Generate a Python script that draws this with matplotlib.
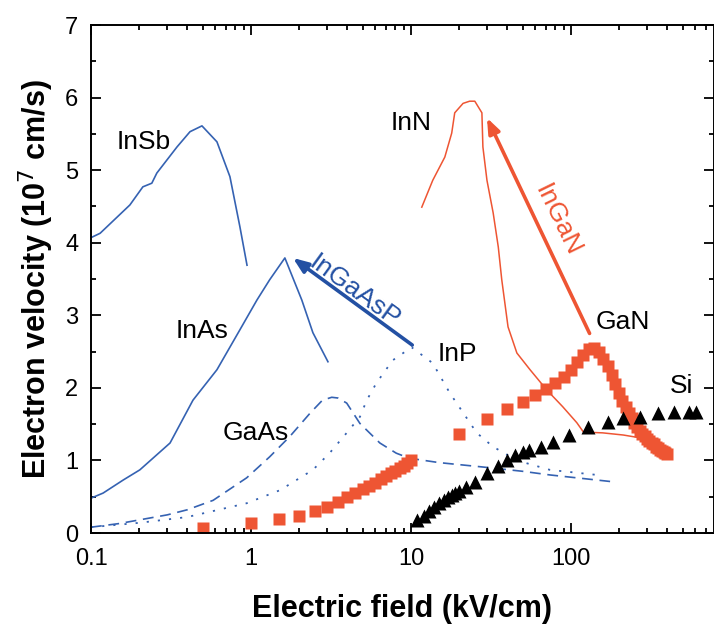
import numpy as np
import matplotlib
matplotlib.use('Agg')
import matplotlib.pyplot as plt

plt.rcParams['font.family'] = ['Liberation Sans', 'DejaVu Sans']

# InSb (solid blue)
insb_x = [0.1, 0.114, 0.175, 0.211, 0.24, 0.258, 0.345, 0.416, 0.494, 0.613, 0.739, 0.853, 0.945]
insb_y = [4.07, 4.13, 4.52, 4.77, 4.82, 4.96, 5.32, 5.53, 5.61, 5.39, 4.91, 4.22, 3.69]

# InAs (solid blue)
inas_x = [0.1, 0.119, 0.159, 0.202, 0.312, 0.434, 0.613, 0.853, 1.09, 1.31, 1.63, 2.08, 2.44, 3.03]
inas_y = [0.48, 0.55, 0.73, 0.87, 1.24, 1.83, 2.25, 2.80, 3.21, 3.49, 3.79, 3.21, 2.76, 2.36]

# GaAs (dashed blue)
gaas_x = [0.1, 0.15, 0.2, 0.3, 0.4, 0.58, 0.94, 1.31, 1.75, 2.34, 2.8, 3.2, 3.5, 3.97,
          4.8, 6.4, 8.1, 9.8, 15, 28, 50, 74, 120, 176]
gaas_y = [0.08, 0.13, 0.18, 0.25, 0.32, 0.45, 0.76, 1.05, 1.33, 1.65, 1.83, 1.87, 1.86, 1.79,
          1.51, 1.24, 1.10, 1.03, 0.97, 0.91, 0.85, 0.80, 0.75, 0.71]

# InP (dotted blue)
inp_x = [0.1, 0.2, 0.4, 0.94, 1.52, 2.44, 3.1, 3.97, 4.8, 5.3, 6.1, 7.7, 10.1,
         13.7, 17.5, 25.8, 32.6, 46, 74, 146]
inp_y = [0.08, 0.14, 0.22, 0.41, 0.59, 0.87, 1.10, 1.38, 1.60, 1.83, 2.07, 2.38, 2.56,
         2.34, 1.93, 1.38, 1.19, 1.00, 0.87, 0.80]

# InN (thin red line)
inn_x = [11.7, 13.7, 16.3, 18.0, 18.8, 21.2, 23.3, 25.1, 27.8, 28.2, 29.9, 32.7, 35.2,
         37.0, 40.5, 46, 55.6, 70.8, 89, 109, 120, 158, 213, 257]
inn_y = [4.49, 4.86, 5.18, 5.51, 5.79, 5.92, 5.95, 5.95, 5.79, 5.32, 4.86, 4.41, 3.94,
         3.49, 2.84, 2.48, 2.25, 1.97, 1.74, 1.52, 1.39, 1.38, 1.35, 1.32]

# GaN (red squares)
gan_x = [0.5, 1, 1.5, 2, 2.5, 3, 3.5, 4, 4.5, 5, 5.5, 6, 6.5, 7, 7.5, 8, 8.5, 9, 9.5, 10,
         20, 30, 40, 50, 60, 70, 80, 90, 100, 110, 120, 130, 140, 150, 160, 170, 180, 190,
         200, 210, 220, 230, 240, 250, 260, 270, 280, 290, 300, 310, 320, 330, 340, 350,
         360, 370, 380, 390, 400]
gan_y = [0.07, 0.14, 0.19, 0.23, 0.30, 0.36, 0.43, 0.49, 0.55, 0.60, 0.65, 0.69, 0.74,
         0.78, 0.82, 0.86, 0.90, 0.93, 0.97, 1.00,
         1.36, 1.57, 1.71, 1.81, 1.90, 1.98, 2.07, 2.15, 2.25, 2.35, 2.45, 2.53, 2.55,
         2.50, 2.40, 2.30, 2.18, 2.05, 1.93, 1.82, 1.73, 1.65, 1.58, 1.52, 1.46, 1.41,
         1.37, 1.33, 1.30, 1.27, 1.24, 1.22, 1.19, 1.17, 1.15, 1.13, 1.11, 1.10, 1.09]

# Si (black triangles)
si_x = [11, 12, 13, 14, 15, 16, 17, 18, 19, 20, 22, 25, 30, 35, 40, 45, 50, 55, 65, 77,
        98, 128, 170, 213, 270, 350, 440, 550, 610]
si_y = [0.18, 0.24, 0.30, 0.36, 0.41, 0.45, 0.49, 0.52, 0.55, 0.58, 0.63, 0.70, 0.82,
        0.93, 1.01, 1.07, 1.11, 1.14, 1.19, 1.25, 1.35, 1.46, 1.53, 1.58, 1.60, 1.65,
        1.67, 1.67, 1.67]

blue = '#3562b2'
blue_dark = '#2350a3'
red = '#ee5533'

fig = plt.figure(figsize=(7.14, 6.25), dpi=100)
ax = fig.add_axes([91/714, 1-533/625, 622.5/714, 508/625])

ax.plot(insb_x, insb_y, '-', color=blue, lw=1.2)
ax.plot(inas_x, inas_y, '-', color=blue, lw=1.2)
ax.plot(gaas_x, gaas_y, color=blue, lw=1.2, dashes=(6.5, 4))
ax.plot(inp_x, inp_y, color=blue, lw=1.3, dashes=(1.2, 5))
ax.plot(gan_x, gan_y, 's', color=red, ms=8.6, mec='none')
ax.plot(inn_x, inn_y, '-', color=red, lw=1.1)
ax.plot(si_x, si_y, '^', color='black', ms=10.5, mec='none')

# arrows
ax.annotate('', xy=(1.83, 3.79), xytext=(10.2, 2.59),
            arrowprops=dict(arrowstyle='-|>,head_length=0.9,head_width=0.35',
                            color=blue_dark, lw=2.6, shrinkA=0, shrinkB=0))
ax.annotate('', xy=(29.9, 5.72), xytext=(131, 2.75),
            arrowprops=dict(arrowstyle='-|>,head_length=0.9,head_width=0.35',
                            color=red, lw=2.6, shrinkA=0, shrinkB=0))

ax.text(4.45, 3.33, 'InGaAsP', color=blue_dark, fontsize=19, rotation=-36,
        ha='center', va='center', rotation_mode='anchor')
ax.text(82.7, 4.31, 'InGaN', color=red, fontsize=19, rotation=-64,
        ha='center', va='center', rotation_mode='anchor')

lbl = dict(fontsize=19, ha='center', va='center', color='black')
ax.text(0.214, 5.39, 'InSb', **lbl)
ax.text(0.494, 2.78, 'InAs', **lbl)
ax.text(1.07, 1.38, 'GaAs', **lbl)
ax.text(10.0, 5.65, 'InN', **lbl)
ax.text(19.4, 2.47, 'InP', **lbl)
ax.text(212, 2.91, 'GaN', **lbl)
ax.text(489, 2.03, 'Si', **lbl)

ax.set_xscale('log')
ax.set_xlim(0.1, 780)
ax.set_ylim(0, 7)
ax.set_xticks([0.1, 1, 10, 100])
ax.set_xticklabels(['0.1', '1', '10', '100'])
ax.set_yticks(range(8))
ax.set_yticks(np.arange(0.5, 7, 1), minor=True)
ax.tick_params(which='both', direction='in', top=True, right=True, width=1.3, labelsize=17)
ax.tick_params(which='major', length=7, pad=11)
ax.tick_params(which='minor', length=3.5)
ax.tick_params(axis='y', which='major', pad=9)
for s in ax.spines.values():
    s.set_linewidth(1.4)

ax.set_xlabel('Electric field (kV/cm)', fontsize=22, fontweight='bold', labelpad=17)
ax.set_ylabel('Electron velocity (10$^7$ cm/s)', fontsize=22, fontweight='bold', labelpad=7)

fig.savefig('out.png', dpi=100)
